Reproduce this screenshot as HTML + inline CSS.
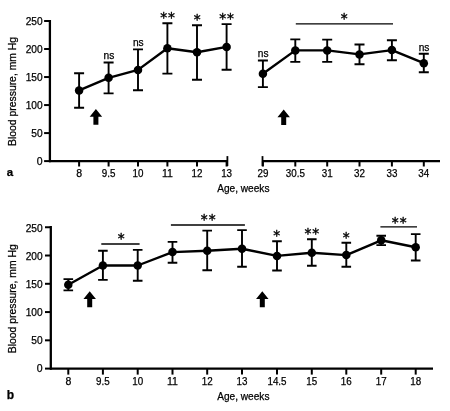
<!DOCTYPE html>
<html lang="en"><head><meta charset="utf-8"><title>Blood pressure by age</title>
<style>
html,body{margin:0;padding:0;background:#fff}
body{width:450px;height:411px;overflow:hidden}
svg{display:block;will-change:transform;transform:translateZ(0)}
text{font-family:"Liberation Sans", sans-serif;fill:#000;stroke:#000;stroke-width:.25px}
</style></head><body>
<svg width="450" height="411" viewBox="0 0 450 411">
<rect width="450" height="411" fill="#fff"/>
<path d="M49.9 20V162.2" stroke="#000" stroke-width="2.3" fill="none"/>
<path d="M44.1 161.1H49.9" stroke="#000" stroke-width="2" fill="none"/>
<text x="42.7" y="164.8" font-size="10.5" text-anchor="end" font-weight="normal" >0</text>
<path d="M44.1 133.08H49.9" stroke="#000" stroke-width="2" fill="none"/>
<text x="42.7" y="136.78" font-size="10.5" text-anchor="end" font-weight="normal" textLength="11.33" lengthAdjust="spacingAndGlyphs">50</text>
<path d="M44.1 105.06H49.9" stroke="#000" stroke-width="2" fill="none"/>
<text x="42.7" y="108.76" font-size="10.5" text-anchor="end" font-weight="normal" textLength="16.99" lengthAdjust="spacingAndGlyphs">100</text>
<path d="M44.1 77.04H49.9" stroke="#000" stroke-width="2" fill="none"/>
<text x="42.7" y="80.74" font-size="10.5" text-anchor="end" font-weight="normal" textLength="16.99" lengthAdjust="spacingAndGlyphs">150</text>
<path d="M44.1 49.02H49.9" stroke="#000" stroke-width="2" fill="none"/>
<text x="42.7" y="52.72" font-size="10.5" text-anchor="end" font-weight="normal" textLength="16.99" lengthAdjust="spacingAndGlyphs">200</text>
<path d="M44.1 21H49.9" stroke="#000" stroke-width="2" fill="none"/>
<text x="42.7" y="24.7" font-size="10.5" text-anchor="end" font-weight="normal" textLength="16.99" lengthAdjust="spacingAndGlyphs">250</text>
<path d="M49 161.1H227.4" stroke="#000" stroke-width="2.3" fill="none"/>
<path d="M79.1 161.1V166.5" stroke="#000" stroke-width="2" fill="none"/>
<text x="79.1" y="176.7" font-size="10.5" text-anchor="middle" font-weight="normal" >8</text>
<path d="M108.6 161.1V166.5" stroke="#000" stroke-width="2" fill="none"/>
<text x="108.6" y="176.7" font-size="10.5" text-anchor="middle" font-weight="normal" textLength="13.65" lengthAdjust="spacingAndGlyphs">9.5</text>
<path d="M138 161.1V166.5" stroke="#000" stroke-width="2" fill="none"/>
<text x="138" y="176.7" font-size="10.5" text-anchor="middle" font-weight="normal" textLength="10.92" lengthAdjust="spacingAndGlyphs">10</text>
<path d="M167.4 161.1V166.5" stroke="#000" stroke-width="2" fill="none"/>
<text x="167.4" y="176.7" font-size="10.5" text-anchor="middle" font-weight="normal" textLength="10.92" lengthAdjust="spacingAndGlyphs">11</text>
<path d="M197 161.1V166.5" stroke="#000" stroke-width="2" fill="none"/>
<text x="197" y="176.7" font-size="10.5" text-anchor="middle" font-weight="normal" textLength="10.92" lengthAdjust="spacingAndGlyphs">12</text>
<path d="M226.6 161.1V166.5" stroke="#000" stroke-width="2" fill="none"/>
<text x="226.6" y="176.7" font-size="10.5" text-anchor="middle" font-weight="normal" textLength="10.92" lengthAdjust="spacingAndGlyphs">13</text>
<path d="M227.4 156.1V166.1" stroke="#000" stroke-width="1.8" fill="none"/>
<path d="M262.5 161.1H440" stroke="#000" stroke-width="2.3" fill="none"/>
<path d="M262.9 161.1V166.5" stroke="#000" stroke-width="2" fill="none"/>
<text x="262.9" y="176.7" font-size="10.5" text-anchor="middle" font-weight="normal" textLength="10.92" lengthAdjust="spacingAndGlyphs">29</text>
<path d="M295.3 161.1V166.5" stroke="#000" stroke-width="2" fill="none"/>
<text x="295.3" y="176.7" font-size="10.5" text-anchor="middle" font-weight="normal" textLength="19.11" lengthAdjust="spacingAndGlyphs">30.5</text>
<path d="M327.2 161.1V166.5" stroke="#000" stroke-width="2" fill="none"/>
<text x="327.2" y="176.7" font-size="10.5" text-anchor="middle" font-weight="normal" textLength="10.92" lengthAdjust="spacingAndGlyphs">31</text>
<path d="M359.5 161.1V166.5" stroke="#000" stroke-width="2" fill="none"/>
<text x="359.5" y="176.7" font-size="10.5" text-anchor="middle" font-weight="normal" textLength="10.92" lengthAdjust="spacingAndGlyphs">32</text>
<path d="M391.9 161.1V166.5" stroke="#000" stroke-width="2" fill="none"/>
<text x="391.9" y="176.7" font-size="10.5" text-anchor="middle" font-weight="normal" textLength="10.92" lengthAdjust="spacingAndGlyphs">33</text>
<path d="M423.8 161.1V166.5" stroke="#000" stroke-width="2" fill="none"/>
<text x="423.8" y="176.7" font-size="10.5" text-anchor="middle" font-weight="normal" textLength="10.92" lengthAdjust="spacingAndGlyphs">34</text>
<path d="M262.5 156.1V166.1" stroke="#000" stroke-width="1.8" fill="none"/>
<path d="M79.1 73.3V107.7M74.1 73.3H84.1M74.1 107.7H84.1" stroke="#000" stroke-width="1.9" fill="none"/>
<path d="M108.6 62.5V93.4M103.6 62.5H113.6M103.6 93.4H113.6" stroke="#000" stroke-width="1.9" fill="none"/>
<path d="M138 49.4V90.2M133 49.4H143M133 90.2H143" stroke="#000" stroke-width="1.9" fill="none"/>
<path d="M167.4 23.2V73.6M162.4 23.2H172.4M162.4 73.6H172.4" stroke="#000" stroke-width="1.9" fill="none"/>
<path d="M197 25.3V79.7M192 25.3H202M192 79.7H202" stroke="#000" stroke-width="1.9" fill="none"/>
<path d="M226.6 24.1V69.8M221.6 24.1H231.6M221.6 69.8H231.6" stroke="#000" stroke-width="1.9" fill="none"/>
<path d="M79.1 90.4 L108.6 77.8 L138 69.9 L167.4 48.2 L197 52.3 L226.6 46.9" stroke="#000" stroke-width="2.4" fill="none" stroke-linejoin="round"/>
<circle cx="79.1" cy="90.4" r="4.25" fill="#000"/>
<circle cx="108.6" cy="77.8" r="4.25" fill="#000"/>
<circle cx="138" cy="69.9" r="4.25" fill="#000"/>
<circle cx="167.4" cy="48.2" r="4.25" fill="#000"/>
<circle cx="197" cy="52.3" r="4.25" fill="#000"/>
<circle cx="226.6" cy="46.9" r="4.25" fill="#000"/>
<path d="M262.9 60.5V87.1M257.9 60.5H267.9M257.9 87.1H267.9" stroke="#000" stroke-width="1.9" fill="none"/>
<path d="M295.3 39.4V61.9M290.3 39.4H300.3M290.3 61.9H300.3" stroke="#000" stroke-width="1.9" fill="none"/>
<path d="M327.2 39.6V61.9M322.2 39.6H332.2M322.2 61.9H332.2" stroke="#000" stroke-width="1.9" fill="none"/>
<path d="M359.5 44.5V64.3M354.5 44.5H364.5M354.5 64.3H364.5" stroke="#000" stroke-width="1.9" fill="none"/>
<path d="M391.9 40.2V60.3M386.9 40.2H396.9M386.9 60.3H396.9" stroke="#000" stroke-width="1.9" fill="none"/>
<path d="M423.8 53.8V72.3M418.8 53.8H428.8M418.8 72.3H428.8" stroke="#000" stroke-width="1.9" fill="none"/>
<path d="M262.9 73.7 L295.3 50.4 L327.2 50.4 L359.5 54.4 L391.9 50.1 L423.8 63.2" stroke="#000" stroke-width="2.4" fill="none" stroke-linejoin="round"/>
<circle cx="262.9" cy="73.7" r="4.25" fill="#000"/>
<circle cx="295.3" cy="50.4" r="4.25" fill="#000"/>
<circle cx="327.2" cy="50.4" r="4.25" fill="#000"/>
<circle cx="359.5" cy="54.4" r="4.25" fill="#000"/>
<circle cx="391.9" cy="50.1" r="4.25" fill="#000"/>
<circle cx="423.8" cy="63.2" r="4.25" fill="#000"/>
<path d="M95.9 109L102.15 116.8H98.4V124.8H93.4V116.8H89.65Z" fill="#000"/>
<path d="M283.7 109.4L289.95 117.2H286.2V125H281.2V117.2H277.45Z" fill="#000"/>
<text x="108.9" y="58.5" font-size="10.2" text-anchor="middle" font-weight="normal" >ns</text>
<text x="138.3" y="46.1" font-size="10.2" text-anchor="middle" font-weight="normal" >ns</text>
<text x="263.2" y="56.7" font-size="10.2" text-anchor="middle" font-weight="normal" >ns</text>
<text x="424.1" y="50.7" font-size="10.2" text-anchor="middle" font-weight="normal" >ns</text>
<text x="168.05" y="22.32" font-size="13.8" text-anchor="middle" letter-spacing="0.9" style="stroke-width:.4px;font-family:'DejaVu Sans',sans-serif">**</text>
<text x="197.2" y="24.32" font-size="13.8" text-anchor="middle" letter-spacing="0" style="stroke-width:.4px;font-family:'DejaVu Sans',sans-serif">*</text>
<text x="227.05" y="22.52" font-size="13.8" text-anchor="middle" letter-spacing="0.9" style="stroke-width:.4px;font-family:'DejaVu Sans',sans-serif">**</text>
<path d="M295.8 23.9H393" stroke="#000" stroke-width="1.3" fill="none"/>
<text x="344.2" y="23.02" font-size="13.8" text-anchor="middle" letter-spacing="0" style="stroke-width:.4px;font-family:'DejaVu Sans',sans-serif">*</text>
<text x="243.3" y="192" font-size="10.5" text-anchor="middle" font-weight="normal" textLength="52.3" lengthAdjust="spacingAndGlyphs">Age, weeks</text>
<text x="10" y="176.4" font-size="11.5" text-anchor="middle" font-weight="bold" >a</text>
<text transform="translate(16.3 91.4) rotate(-90)" font-size="10.5" text-anchor="middle" textLength="109" lengthAdjust="spacingAndGlyphs">Blood pressure, mm Hg</text>
<path d="M50.8 226V369.7" stroke="#000" stroke-width="2.3" fill="none"/>
<path d="M45 368.6H50.8" stroke="#000" stroke-width="2" fill="none"/>
<text x="42.7" y="372.3" font-size="10.5" text-anchor="end" font-weight="normal" >0</text>
<path d="M45 340.33H50.8" stroke="#000" stroke-width="2" fill="none"/>
<text x="42.7" y="344.13" font-size="10.5" text-anchor="end" font-weight="normal" textLength="11.33" lengthAdjust="spacingAndGlyphs">50</text>
<path d="M45 312.06H50.8" stroke="#000" stroke-width="2" fill="none"/>
<text x="42.7" y="315.96" font-size="10.5" text-anchor="end" font-weight="normal" textLength="16.99" lengthAdjust="spacingAndGlyphs">100</text>
<path d="M45 283.79H50.8" stroke="#000" stroke-width="2" fill="none"/>
<text x="42.7" y="287.69" font-size="10.5" text-anchor="end" font-weight="normal" textLength="16.99" lengthAdjust="spacingAndGlyphs">150</text>
<path d="M45 255.52H50.8" stroke="#000" stroke-width="2" fill="none"/>
<text x="42.7" y="259.72" font-size="10.5" text-anchor="end" font-weight="normal" textLength="16.99" lengthAdjust="spacingAndGlyphs">200</text>
<path d="M45 227.25H50.8" stroke="#000" stroke-width="2" fill="none"/>
<text x="42.7" y="231.75" font-size="10.5" text-anchor="end" font-weight="normal" textLength="16.99" lengthAdjust="spacingAndGlyphs">250</text>
<path d="M50 368.6H433" stroke="#000" stroke-width="2.3" fill="none"/>
<path d="M68.3 368.6V374.6" stroke="#000" stroke-width="2" fill="none"/>
<text x="68.3" y="384.8" font-size="10.5" text-anchor="middle" font-weight="normal" >8</text>
<path d="M102.9 368.6V374.6" stroke="#000" stroke-width="2" fill="none"/>
<text x="102.9" y="384.8" font-size="10.5" text-anchor="middle" font-weight="normal" textLength="13.65" lengthAdjust="spacingAndGlyphs">9.5</text>
<path d="M137.7 368.6V374.6" stroke="#000" stroke-width="2" fill="none"/>
<text x="137.7" y="384.8" font-size="10.5" text-anchor="middle" font-weight="normal" textLength="10.92" lengthAdjust="spacingAndGlyphs">10</text>
<path d="M172.5 368.6V374.6" stroke="#000" stroke-width="2" fill="none"/>
<text x="172.5" y="384.8" font-size="10.5" text-anchor="middle" font-weight="normal" textLength="10.92" lengthAdjust="spacingAndGlyphs">11</text>
<path d="M207.2 368.6V374.6" stroke="#000" stroke-width="2" fill="none"/>
<text x="207.2" y="384.8" font-size="10.5" text-anchor="middle" font-weight="normal" textLength="10.92" lengthAdjust="spacingAndGlyphs">12</text>
<path d="M242 368.6V374.6" stroke="#000" stroke-width="2" fill="none"/>
<text x="242" y="384.8" font-size="10.5" text-anchor="middle" font-weight="normal" textLength="10.92" lengthAdjust="spacingAndGlyphs">13</text>
<path d="M277 368.6V374.6" stroke="#000" stroke-width="2" fill="none"/>
<text x="277" y="384.8" font-size="10.5" text-anchor="middle" font-weight="normal" textLength="19.11" lengthAdjust="spacingAndGlyphs">14.5</text>
<path d="M311.8 368.6V374.6" stroke="#000" stroke-width="2" fill="none"/>
<text x="311.8" y="384.8" font-size="10.5" text-anchor="middle" font-weight="normal" textLength="10.92" lengthAdjust="spacingAndGlyphs">15</text>
<path d="M346.3 368.6V374.6" stroke="#000" stroke-width="2" fill="none"/>
<text x="346.3" y="384.8" font-size="10.5" text-anchor="middle" font-weight="normal" textLength="10.92" lengthAdjust="spacingAndGlyphs">16</text>
<path d="M381.2 368.6V374.6" stroke="#000" stroke-width="2" fill="none"/>
<text x="381.2" y="384.8" font-size="10.5" text-anchor="middle" font-weight="normal" textLength="10.92" lengthAdjust="spacingAndGlyphs">17</text>
<path d="M415.7 368.6V374.6" stroke="#000" stroke-width="2" fill="none"/>
<text x="415.7" y="384.8" font-size="10.5" text-anchor="middle" font-weight="normal" textLength="10.92" lengthAdjust="spacingAndGlyphs">18</text>
<path d="M68.3 279.1V290.4M63.5 279.1H73.1M63.5 290.4H73.1" stroke="#000" stroke-width="1.9" fill="none"/>
<path d="M102.9 250.7V279.9M98.1 250.7H107.7M98.1 279.9H107.7" stroke="#000" stroke-width="1.9" fill="none"/>
<path d="M137.7 249.9V280.7M132.9 249.9H142.5M132.9 280.7H142.5" stroke="#000" stroke-width="1.9" fill="none"/>
<path d="M172.5 241.9V262.8M167.7 241.9H177.3M167.7 262.8H177.3" stroke="#000" stroke-width="1.9" fill="none"/>
<path d="M207.2 230.6V270.3M202.4 230.6H212M202.4 270.3H212" stroke="#000" stroke-width="1.9" fill="none"/>
<path d="M242 230.1V266.8M237.2 230.1H246.8M237.2 266.8H246.8" stroke="#000" stroke-width="1.9" fill="none"/>
<path d="M277 241.3V270.5M272.2 241.3H281.8M272.2 270.5H281.8" stroke="#000" stroke-width="1.9" fill="none"/>
<path d="M311.8 239.3V265.7M307 239.3H316.6M307 265.7H316.6" stroke="#000" stroke-width="1.9" fill="none"/>
<path d="M346.3 242.7V266.8M341.5 242.7H351.1M341.5 266.8H351.1" stroke="#000" stroke-width="1.9" fill="none"/>
<path d="M381.2 235.7V245.1M376.4 235.7H386M376.4 245.1H386" stroke="#000" stroke-width="1.9" fill="none"/>
<path d="M415.7 234.1V260.5M410.9 234.1H420.5M410.9 260.5H420.5" stroke="#000" stroke-width="1.9" fill="none"/>
<path d="M68.3 284.7 L102.9 265.5 L137.7 265.5 L172.5 252.1 L207.2 250.7 L242 248.8 L277 255.9 L311.8 252.7 L346.3 255.1 L381.2 240.3 L415.7 247.2" stroke="#000" stroke-width="2.4" fill="none" stroke-linejoin="round"/>
<circle cx="68.3" cy="284.7" r="4.25" fill="#000"/>
<circle cx="102.9" cy="265.5" r="4.25" fill="#000"/>
<circle cx="137.7" cy="265.5" r="4.25" fill="#000"/>
<circle cx="172.5" cy="252.1" r="4.25" fill="#000"/>
<circle cx="207.2" cy="250.7" r="4.25" fill="#000"/>
<circle cx="242" cy="248.8" r="4.25" fill="#000"/>
<circle cx="277" cy="255.9" r="4.25" fill="#000"/>
<circle cx="311.8" cy="252.7" r="4.25" fill="#000"/>
<circle cx="346.3" cy="255.1" r="4.25" fill="#000"/>
<circle cx="381.2" cy="240.3" r="4.25" fill="#000"/>
<circle cx="415.7" cy="247.2" r="4.25" fill="#000"/>
<path d="M89.7 291.3L95.95 299.1H92.2V307.2H87.2V299.1H83.45Z" fill="#000"/>
<path d="M262.3 291.3L268.55 299.1H264.8V307.2H259.8V299.1H256.05Z" fill="#000"/>
<path d="M101.3 244H139.6" stroke="#000" stroke-width="1.3" fill="none"/>
<text x="121.3" y="242.72" font-size="13.8" text-anchor="middle" letter-spacing="0" style="stroke-width:.4px;font-family:'DejaVu Sans',sans-serif">*</text>
<path d="M170.9 225H244.9" stroke="#000" stroke-width="1.3" fill="none"/>
<text x="208.65" y="224.42" font-size="13.8" text-anchor="middle" letter-spacing="0.9" style="stroke-width:.4px;font-family:'DejaVu Sans',sans-serif">**</text>
<text x="276.6" y="240.02" font-size="13.8" text-anchor="middle" letter-spacing="0" style="stroke-width:.4px;font-family:'DejaVu Sans',sans-serif">*</text>
<text x="312.25" y="237.82" font-size="13.8" text-anchor="middle" letter-spacing="0.9" style="stroke-width:.4px;font-family:'DejaVu Sans',sans-serif">**</text>
<text x="346.3" y="242.12" font-size="13.8" text-anchor="middle" letter-spacing="0" style="stroke-width:.4px;font-family:'DejaVu Sans',sans-serif">*</text>
<path d="M380.4 226.9H417" stroke="#000" stroke-width="1.3" fill="none"/>
<text x="399.65" y="226.52" font-size="13.8" text-anchor="middle" letter-spacing="0.9" style="stroke-width:.4px;font-family:'DejaVu Sans',sans-serif">**</text>
<text x="243.3" y="400.1" font-size="10.5" text-anchor="middle" font-weight="normal" textLength="52.3" lengthAdjust="spacingAndGlyphs">Age, weeks</text>
<text x="10.3" y="399.3" font-size="12" text-anchor="middle" font-weight="bold" >b</text>
<text transform="translate(16.3 298.7) rotate(-90)" font-size="10.5" text-anchor="middle" textLength="109" lengthAdjust="spacingAndGlyphs">Blood pressure, mm Hg</text>
</svg>
</body></html>
